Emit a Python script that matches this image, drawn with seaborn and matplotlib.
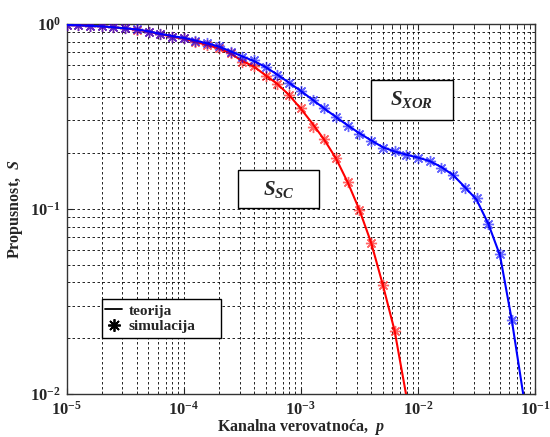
import numpy as np
import matplotlib.pyplot as plt
import seaborn as sns
from matplotlib.lines import Line2D
from matplotlib.patches import Rectangle
from matplotlib.ticker import NullFormatter

# Kanalna verovatnoca p: simulation points every 0.1 decade, 1e-5 .. 1e-1
p = np.logspace(-5, -1, 41)

# S_XOR (blue) - theory curve and simulation points
s_xor_theory = [0.984, 0.979, 0.973, 0.966, 0.955, 0.943, 0.930, 0.908, 0.880, 0.857,
                0.838, 0.810, 0.782, 0.752, 0.708, 0.665, 0.628, 0.582, 0.530, 0.479,
                0.433, 0.388, 0.348, 0.313, 0.282, 0.256, 0.234, 0.215, 0.204, 0.196,
                0.189, 0.181, 0.168, 0.152, 0.131, 0.112, 0.083, 0.056, 0.0252, 0.0098,
                0.002]
s_xor_sim = [0.984, 0.979, 0.973, 0.966, 0.955, 0.943, 0.930, 0.904, 0.877, 0.849,
             0.840, 0.807, 0.782, 0.756, 0.705, 0.662, 0.635, 0.582, 0.527, 0.478,
             0.434, 0.387, 0.348, 0.312, 0.281, 0.255, 0.233, 0.212, 0.205, 0.195,
             0.188, 0.182, 0.167, 0.153, 0.130, 0.114, 0.083, 0.057, 0.0251]

# S_SC (red)
s_sc_theory = [0.984, 0.979, 0.973, 0.966, 0.955, 0.942, 0.928, 0.905, 0.877, 0.850,
               0.830, 0.798, 0.765, 0.735, 0.690, 0.628, 0.586, 0.525, 0.472, 0.411,
               0.347, 0.288, 0.236, 0.187, 0.139, 0.0986, 0.0656, 0.0388, 0.0220, 0.0098,
               0.0035]
s_sc_sim = [0.984, 0.979, 0.973, 0.966, 0.955, 0.942, 0.928, 0.905, 0.877, 0.850,
            0.832, 0.798, 0.765, 0.738, 0.690, 0.622, 0.588, 0.524, 0.472, 0.411,
            0.349, 0.275, 0.237, 0.187, 0.140, 0.0985, 0.0656, 0.0388, 0.0220]

sns.set_style("ticks")
plt.rcParams["font.family"] = ["Liberation Serif", "DejaVu Serif"]
plt.rcParams["font.weight"] = "bold"
plt.rcParams["mathtext.fontset"] = "custom"
plt.rcParams["mathtext.rm"] = "Liberation Serif:bold"
plt.rcParams["mathtext.bf"] = "Liberation Serif:bold"
plt.rcParams["mathtext.it"] = "Liberation Serif:italic:bold"

fig = plt.figure(figsize=(5.5, 4.37), dpi=100)
ax = fig.add_axes([0.121, 0.0984, 0.852, 0.8476])

asterisk = (8, 2, 0)

sns.lineplot(x=p[:len(s_sc_theory)], y=s_sc_theory, color="#ff0000", lw=1.5, ax=ax, zorder=3)
ax.plot(p[:len(s_sc_sim)], s_sc_sim, ls="none", marker=asterisk, ms=8, mew=1.0,
        color="#ff0000", alpha=0.6, zorder=4)
sns.lineplot(x=p[:len(s_xor_theory)], y=s_xor_theory, color="#0000ff", lw=1.5, ax=ax, zorder=5)
ax.plot(p[:len(s_xor_sim)], s_xor_sim, ls="none", marker=asterisk, ms=8, mew=1.0,
        color="#0000ff", alpha=0.6, zorder=6)

ax.set_xscale("log")
ax.set_yscale("log")
ax.set_xlim(1e-5, 1e-1)
ax.set_ylim(1e-2, 1)
ax.yaxis.set_minor_formatter(NullFormatter())
ax.xaxis.set_minor_formatter(NullFormatter())

ax.grid(True, which="both", color="black", ls=(0, (3, 3)), lw=0.6, zorder=1)
ax.set_axisbelow(True)
for sp in ax.spines.values():
    sp.set_color("#333333")
    sp.set_linewidth(1.0)
ax.tick_params(which="both", direction="in", labelsize=12, top=True, right=True)
ax.tick_params(which="major", length=4)
ax.tick_params(which="minor", length=2)
ax.tick_params(axis="x", pad=5)
ax.tick_params(axis="y", pad=4)

ax.set_xlabel("Kanalna verovatnoća,  $p$", fontsize=11.5, fontweight="bold")
ax.set_ylabel("Propusnost,  $S$", fontsize=11.5, fontweight="bold")
ax.xaxis.set_label_coords(0.5, -0.063)
ax.yaxis.set_label_coords(-0.089, 0.5)

# boxed curve names
for (x0, y0, w, h, label) in [(0.650, 0.741, 0.174, 0.1065, "$S_{XOR}$"),
                               (0.3666, 0.501, 0.1729, 0.1036, "$S_{SC}$")]:
    ax.add_patch(Rectangle((x0, y0), w, h, transform=ax.transAxes, facecolor="white",
                           edgecolor="black", lw=1.0, zorder=8))
    ax.text(x0 + w / 2, y0 + h / 2, label, transform=ax.transAxes, ha="center",
            va="center", fontsize=15, zorder=9)

# legend: frame drawn as its own box, entries placed inside it
ax.add_patch(Rectangle((0.0749, 0.152), 0.254, 0.1036, transform=ax.transAxes,
                       facecolor="white", edgecolor="black", lw=1.0, zorder=8))
handles = [Line2D([], [], color="black", lw=1.3),
           Line2D([], [], ls="none", color="black", marker=asterisk, ms=9, mew=1.3)]
leg = ax.legend(handles, ["teorija", "simulacija"], loc="center left",
                bbox_to_anchor=(0.0749, 0.152 + 0.1036 / 2), borderaxespad=0,
                frameon=False, fontsize=11, handlelength=1.1, handletextpad=0.4,
                borderpad=0.25, labelspacing=0.1)
leg.set_zorder(10)

fig.savefig("out.png", dpi=100)
